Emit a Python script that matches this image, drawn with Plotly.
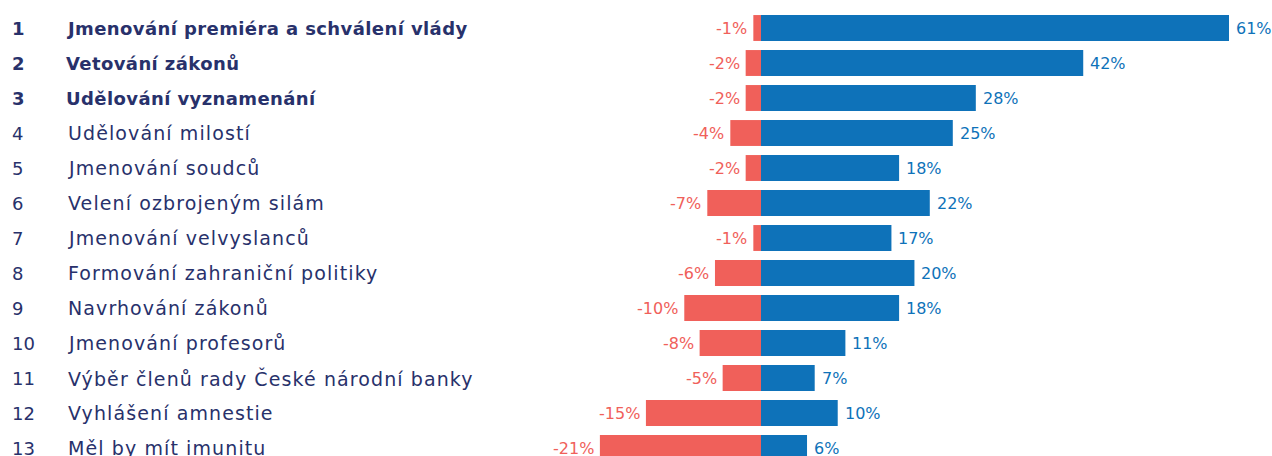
import plotly.graph_objects as go

ranks = ["1", "2", "3", "4", "5", "6", "7", "8", "9", "10", "11", "12", "13"]
labels = [
    "Jmenování premiéra a schválení vlády",
    "Vetování zákonů",
    "Udělování vyznamenání",
    "Udělování milostí",
    "Jmenování soudců",
    "Velení ozbrojeným silám",
    "Jmenování velvyslanců",
    "Formování zahraniční politiky",
    "Navrhování zákonů",
    "Jmenování profesorů",
    "Výběr členů rady České národní banky",
    "Vyhlášení amnestie",
    "Měl by mít imunitu",
]
negative = [-1, -2, -2, -4, -2, -7, -1, -6, -10, -8, -5, -15, -21]
positive = [61, 42, 28, 25, 18, 22, 17, 20, 18, 11, 7, 10, 6]
bold_rows = [True, True, True] + [False] * 10

RED = "#F0605A"
BLUE = "#0E72B9"
NAVY = "#28316B"
FONT = "DejaVu Sans"

W, H = 1272, 456
ys = list(range(1, len(labels) + 1))

fig = go.Figure()
fig.add_trace(go.Bar(x=negative, y=ys, orientation="h", marker=dict(color=RED, line=dict(width=0)),
                     width=0.74, hoverinfo="skip"))
fig.add_trace(go.Bar(x=positive, y=ys, orientation="h", marker=dict(color=BLUE, line=dict(width=0)),
                     width=0.74, hoverinfo="skip"))

ann = []
for y, r, lab, n, p, b in zip(ys, ranks, labels, negative, positive, bold_rows):
    if b:
        txt_r = f"<b>{r}</b>"
        txt_l = f"<span style='letter-spacing:0.4px'><b>{lab}</b></span>"
        size = 18
        lx = 64
    else:
        txt_r = r
        txt_l = f"<span style='letter-spacing:1.1px'>{lab}</span>"
        size = 19
        lx = 66
    ann.append(dict(x=10 / W, xref="paper", y=y, yref="y", text=txt_r, showarrow=False,
                    xanchor="left", yanchor="middle", font=dict(family=FONT, size=18, color=NAVY)))
    ann.append(dict(x=lx / W, xref="paper", y=y, yref="y", text=txt_l, showarrow=False,
                    xanchor="left", yanchor="middle", font=dict(family=FONT, size=size, color=NAVY)))
    ann.append(dict(x=n, y=y, xref="x", yref="y", text=f"{n}%", showarrow=False, xanchor="right",
                    yanchor="middle", xshift=-4, font=dict(family=FONT, size=16, color=RED)))
    ann.append(dict(x=p, y=y, xref="x", yref="y", text=f"{p}%", showarrow=False, xanchor="left",
                    yanchor="middle", xshift=5, font=dict(family=FONT, size=16, color=BLUE)))

zero_px = 761
px_per = (1229 - zero_px) / 61.0
xmin = -zero_px / px_per
xmax = (W - zero_px) / px_per

fig.update_layout(
    width=W, height=H,
    margin=dict(l=0, r=0, t=0, b=0),
    paper_bgcolor="white", plot_bgcolor="white",
    barmode="overlay", showlegend=False,
    xaxis=dict(range=[xmin, xmax], visible=False, fixedrange=True),
    yaxis=dict(range=[13 + 8 / 35, 1 - 28 / 35], visible=False, fixedrange=True),
    annotations=ann,
)
fig.write_html(
    "out.html",
    config={"displayModeBar": False},
    post_script="document.body.style.margin='0';document.body.style.overflow='hidden';",
)
